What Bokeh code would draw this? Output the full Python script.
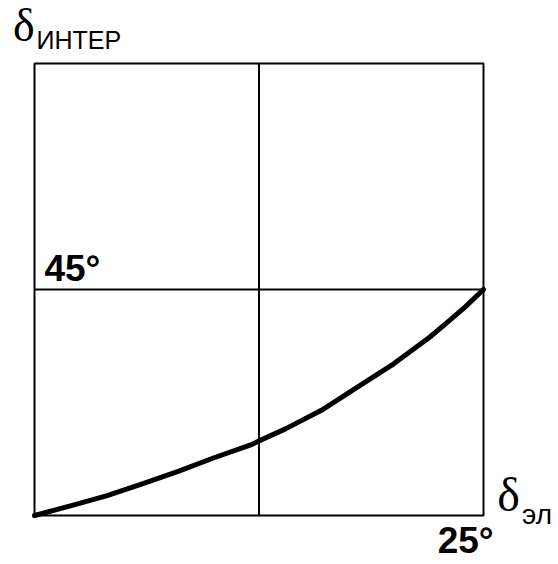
from bokeh.plotting import figure
from bokeh.models import Range1d, Label
from bokeh.embed import file_html
from bokeh.resources import INLINE

# Electrical angle (deg) and the resulting interaction angle (deg)
delta_el = [0, 2, 4, 6, 8, 10, 12, 14, 16, 18, 20, 22, 23, 24, 25]
delta_inter = [0, 1.9, 3.9, 6.3, 8.8, 11.5, 14.0, 17.3, 21.0, 25.6, 30.2, 35.5, 38.5, 41.6, 45]

x_max = 25
y_max = 90
grid_x = [12.5]
grid_y = [45]
y_tick_label = "45°"
x_tick_label = "25°"
y_name, y_sub = "δ", "ИНТЕР"
x_name, x_sub = "δ", "эл"

W, H = 558, 564
# the plotting box sits at pixels 34..483 horizontally and 63..515 vertically
px_x = x_max / 449.0
px_y = y_max / 452.0
x_lo, x_hi = -34 * px_x, (W - 34) * px_x
y_lo, y_hi = -(H - 515) * px_y, 515 * px_y

p = figure(width=W, height=H, output_backend="svg", toolbar_location=None,
           x_range=Range1d(x_lo, x_hi), y_range=Range1d(y_lo, y_hi),
           min_border=0)
p.axis.visible = False
p.grid.visible = False
p.outline_line_color = None
p.background_fill_color = "white"
p.border_fill_color = "white"

# box and the mid grid lines
p.quad(left=0, right=x_max, bottom=0, top=y_max, fill_color=None,
       line_color="black", line_width=2)
p.segment(x0=grid_x, y0=[0] * len(grid_x), x1=grid_x, y1=[y_max] * len(grid_x),
          line_color="black", line_width=2)
p.segment(x0=[0] * len(grid_y), y0=grid_y, x1=[x_max] * len(grid_y), y1=grid_y,
          line_color="black", line_width=2)

p.line(delta_el, delta_inter, line_color="black", line_width=5,
       line_join="round", line_cap="round")

def add_label(x, y, text, font, size, bold=False):
    p.add_layout(Label(x=x, y=y, text=text, text_font=font, text_font_size=size,
                       text_font_style="bold" if bold else "normal",
                       text_color="black", text_baseline="alphabetic", text_align="left"))

# tick values
add_label(0.55, 49.1, y_tick_label, "Liberation Sans", "37px", bold=True)
add_label(22.45, -5.0, x_tick_label, "Liberation Sans", "37px", bold=True)

# axis names with subscripts
add_label(-1.2, 97.6, y_name, "Liberation Serif", "46px")
add_label(0.11, 94.6, y_sub, "Liberation Sans", "25px")
add_label(25.76, 4.2, x_name, "Liberation Serif", "48px")
add_label(27.15, 0.16, x_sub, "Liberation Sans", "28px")

open("out.html", "w").write(file_html(p, INLINE))
